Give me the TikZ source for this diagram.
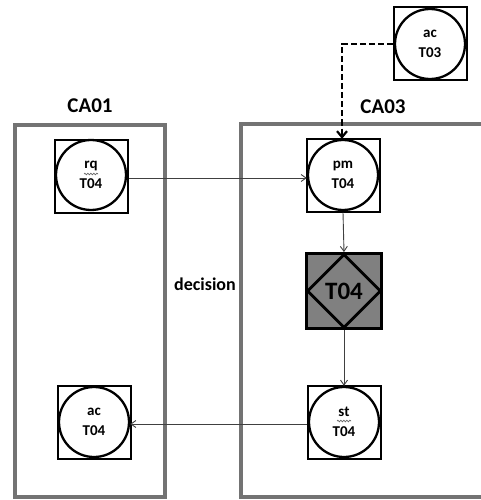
\documentclass[tikz,border=0pt]{standalone}
\usepackage{fontspec}
\setmainfont{Carlito}
\usetikzlibrary{shapes.geometric,arrows.meta,decorations.pathmorphing}
\begin{document}
\begin{tikzpicture}[x=1pt,y=-1pt,
  lane/.style={draw=black!55,line width=3.5pt},
  lanelabel/.style={font=\bfseries\fontsize{21}{22}\selectfont},
  sq/.style={draw,line width=2pt,minimum size=73pt,inner sep=0pt},
  circ/.style={draw,circle,line width=2.3pt,minimum size=70pt,inner sep=0pt,align=center,
     font=\bfseries\fontsize{15}{20}\selectfont},
  wave/.style={draw=black!60,line width=0.7pt,decorate,decoration={snake,amplitude=0.8pt,segment length=3pt}},
  arr/.style={draw=black!75,line width=0.9pt,-{Straight Barb[length=5pt,width=7pt]}},
  darr/.style={draw,line width=2.2pt,dash pattern=on 6pt off 3pt,-{Straight Barb[length=6pt,width=10pt]}}
]
\useasboundingbox (0,0) rectangle (480,500);
% lanes
\draw[lane] (15,497) -- (15,125) -- (165,125) -- (165,497) -- cycle;
\draw[lane] (484,497) -- (241,497) -- (241,124) -- (484,124);
\node[lanelabel] (l1) at (90,106) {CA01};
\node[lanelabel] (l3) at (383,107) {CA03};
\node[font=\bfseries\fontsize{18}{18}\selectfont] (dec) at (205,284) {decision};
% nodes
\node[sq] (rqS) at (91,176) {};
\node[circ] (rq) at (91,175) {rq\\T04};
\node[sq] (pmS) at (343,175) {};
\node[circ] (pm) at (343,175) {pm\\T04};
\node[sq] (acS) at (430,44) {};
\node[circ] (ac3) at (430,44) {ac\\T03};
\node[sq] (stS) at (344,422) {};
\node[circ] (st) at (344,422) {st\\T04};
\node[sq] (acS4) at (94,422) {};
\node[circ] (ac4) at (94,422) {ac\\T04};
\node[draw,fill=black!50,line width=2.8pt,minimum size=75pt,inner sep=0pt] (dS) at (344,291) {};
\node[draw,diamond,line width=2.8pt,minimum size=74pt,inner sep=0pt,
  font=\bfseries\fontsize{25}{25}\selectfont] (d) at (344,291) {T04};
% wavy underlines
\draw[wave] ([xshift=-7pt,yshift=1pt]rq.center) -- ([xshift=7pt,yshift=1pt]rq.center);
\draw[wave] ([xshift=-7pt,yshift=1pt]st.center) -- ([xshift=7pt,yshift=1pt]st.center);
% connectors
\coordinate (bend) at (342,44);
\draw[darr] (acS.west) -- (bend) -- (pm.north -| bend);
\draw[arr] (rqS.east |- 0,178) -- (pm.west |- 0,178);
\draw[arr] (pmS.south) -- (dS.north);
\draw[arr] (dS.south) -- (st.north);
\draw[arr] (stS.west |- 0,424) -- (ac4.east |- 0,424);
\end{tikzpicture}
\end{document}
